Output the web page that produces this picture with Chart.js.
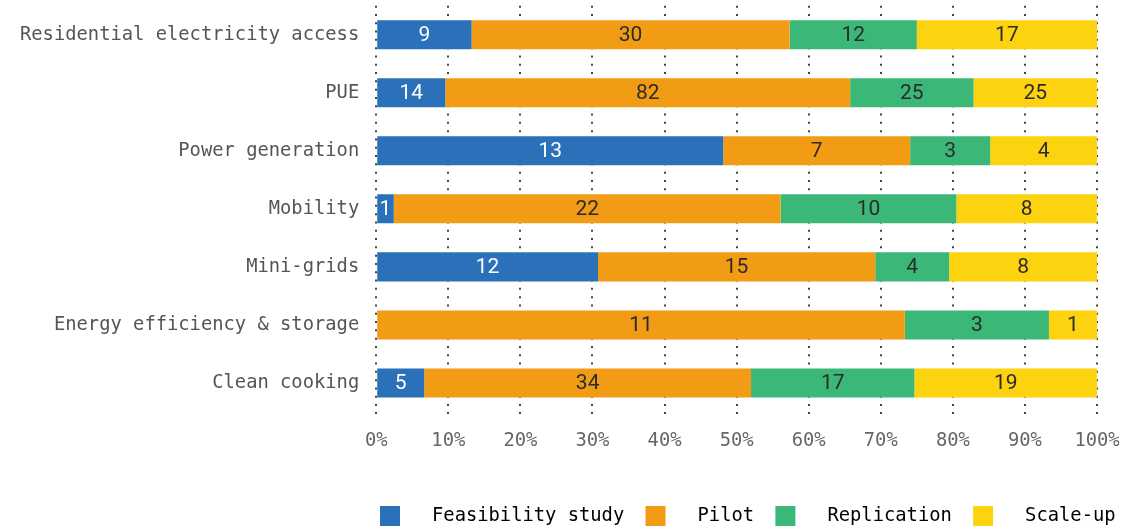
<!DOCTYPE html>
<html>
<head>
<meta charset="utf-8">
<script src="https://cdn.jsdelivr.net/npm/chart.js@4.4.1/dist/chart.umd.min.js"></script>
<style>
  html, body { margin: 0; padding: 0; background: #fff; }
  #wrap { width: 1128px; height: 532px; position: relative; }
</style>
</head>
<body>
<div id="wrap"><canvas id="canvas"></canvas></div>
<script>
// project counts by stage, one row per sector
const categories = ['Residential electricity access', 'PUE', 'Power generation', 'Mobility',
  'Mini-grids', 'Energy efficiency & storage', 'Clean cooking'];
const feasibility = [9, 14, 13, 1, 12, 0, 5];
const pilot = [30, 82, 7, 22, 15, 11, 34];
const replication = [12, 25, 3, 10, 4, 3, 17];
const scaleUp = [17, 25, 4, 8, 8, 1, 19];
const stageNames = ['Feasibility study', 'Pilot', 'Replication', 'Scale-up'];
const stageColors = ['#2a71b9', '#f19c14', '#3bb878', '#fdd20e'];

const counts = [feasibility, pilot, replication, scaleUp];
const totals = categories.map((c, i) => counts.reduce((s, arr) => s + arr[i], 0));

const mono = '"DejaVu Sans Mono", monospace';
const dots = [2, 6.3];

// bar lengths are each stage's share of the row total
const datasets = counts.map((arr, k) => ({
  label: stageNames[k],
  data: arr.map((v, i) => v / totals[i] * 100),
  counts: arr,
  backgroundColor: stageColors[k],
  borderWidth: 0,
  barPercentage: 1,
  categoryPercentage: 0.5,
}));

// writes the raw count in the middle of each segment
const countLabels = {
  id: 'countLabels',
  afterDatasetsDraw(chart) {
    const ctx = chart.ctx;
    ctx.save();
    ctx.font = '21px Roboto';
    ctx.textAlign = 'center';
    ctx.textBaseline = 'middle';
    chart.data.datasets.forEach((ds, k) => {
      chart.getDatasetMeta(k).data.forEach((bar, i) => {
        const v = ds.counts[i];
        if (!v) return;
        const x = (bar.x + bar.base) / 2;
        ctx.fillStyle = k === 0 ? '#ffffff' : '#2b2b2b';
        ctx.fillText(String(v), x, bar.y + 1);
      });
    });
    ctx.restore();
  }
};

// push the legend row right so it starts under the plot
const legendShift = {
  id: 'legendShift',
  afterLayout(chart) {
    const lg = chart.legend;
    if (!lg) return;
    lg.left += 350;
    lg.right += 350;
  }
};

const config = {
  type: 'bar',
  data: { labels: categories, datasets },
  options: {
    indexAxis: 'y',
    responsive: true,
    maintainAspectRatio: false,
    animation: false,
    layout: { padding: { top: 4, right: 31, bottom: -4, left: 20 } },
    scales: {
      x: {
        stacked: true,
        min: 0,
        max: 100,
        border: { display: false, dash: dots },
        grid: {
          color: '#444',
          lineWidth: 2,
          drawTicks: true,
          tickLength: 4,
          tickColor: '#444',
          tickWidth: 2,
          tickBorderDash: dots,
        },
        ticks: {
          stepSize: 10,
          padding: 0,
          color: '#666',
          // tall line box drops the labels below the dotted ticks
          font: { family: mono, size: 18.8, lineHeight: 2.66 },
          callback: v => v + '%',
        },
        afterFit(scale) { scale.height = 84; },
      },
      y: {
        stacked: true,
        border: { display: false },
        grid: {
          display: true,
          drawOnChartArea: false,
          drawTicks: true,
          tickLength: 17,
          tickColor: 'rgba(0,0,0,0)',
        },
        ticks: {
          padding: 0,
          color: '#555',
          font: { family: mono, size: 18.8, lineHeight: 0.6 },
        },
      },
    },
    plugins: {
      tooltip: { enabled: false },
      legend: {
        position: 'bottom',
        align: 'start',
        labels: {
          boxWidth: 20,
          boxHeight: 20,
          padding: 10,
          color: '#555',
          font: { family: mono, size: 18.8 },
          generateLabels(chart) {
            return chart.data.datasets.map((ds, i) => ({
              text: '  ' + ds.label + ' ',
              fillStyle: ds.backgroundColor,
              strokeStyle: ds.backgroundColor,
              lineWidth: 0,
              hidden: false,
              datasetIndex: i,
            }));
          },
        },
      },
    },
  },
  plugins: [countLabels, legendShift],
};

let myChart = new Chart(document.getElementById('canvas'), config);
</script>
</body>
</html>
